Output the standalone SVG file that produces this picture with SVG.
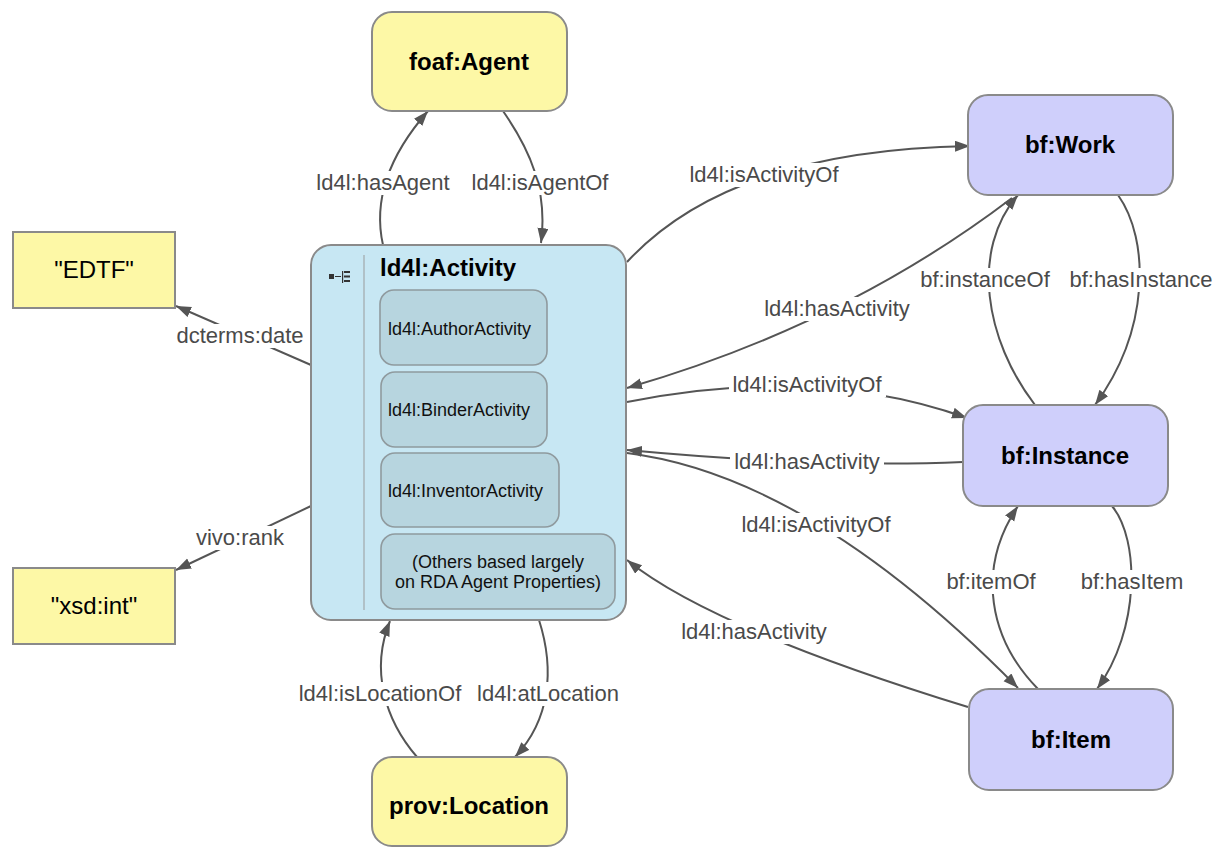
<svg xmlns="http://www.w3.org/2000/svg" width="1217" height="849" viewBox="0 0 1217 849">
<style>
.node{stroke:#8a8a8a;stroke-width:2}
.yel{fill:#fdf8a6}
.lav{fill:#cfcffb}
.act{fill:#c7e7f3}
.sub{fill:#b7d5df;stroke:#8f9a9e;stroke-width:1.6}
.nl{font-family:"Liberation Sans",Arial,sans-serif;font-weight:bold;font-size:24px;fill:#000;text-anchor:middle}
.lit{font-family:"Liberation Sans",Arial,sans-serif;font-size:24px;fill:#000;text-anchor:middle}
.sl{font-family:"Liberation Sans",Arial,sans-serif;font-size:18px;fill:#111}
.edge{fill:none;stroke:#555;stroke-width:2;marker-end:url(#arr)}
.lb{fill:#fff}
.el{font-family:"Liberation Sans",Arial,sans-serif;font-size:22px;fill:#4a4a4a;text-anchor:middle}
</style>
<defs>
<marker id="arr" markerUnits="userSpaceOnUse" markerWidth="16" markerHeight="12" refX="15" refY="5.5" orient="auto">
<path d="M0,0 L15,5.5 L0,11 z" fill="#555"/>
</marker>
</defs>
<rect width="1217" height="849" fill="#fff"/>

<g id="connectors">
<path class="edge" d="M383,245 C374,205 385,160 428,111"/>
<path class="edge" d="M503,111 C530,150 548,190 541,243"/>
<path class="edge" d="M417,757 C385,720 370,670 390,621"/>
<path class="edge" d="M539,620 C555,670 550,720 515,757"/>
<path class="edge" d="M311,365 L176,306"/>
<path class="edge" d="M311,506 L176,570"/>
<path class="edge" d="M627,262 Q730,150 970,146"/>
<path class="edge" d="M1012,198 Q845,325 627,388"/>
<path class="edge" d="M627,402 Q815,364 967,418"/>
<path class="edge" d="M963,462 Q819,468 627,450"/>
<path class="edge" d="M627,453 Q810,476 1018,688"/>
<path class="edge" d="M968,707 Q711,628 627,560"/>
<path class="edge" d="M1035,405 C985,340 970,250 1018,195"/>
<path class="edge" d="M1118,195 C1150,240 1150,330 1095,405"/>
<path class="edge" d="M1038,689 C990,640 975,570 1018,506"/>
<path class="edge" d="M1112,506 C1140,540 1140,630 1097,689"/>
<g id="edge-labels">
<rect class="lb" x="311" y="171" width="144" height="24"/>
<text class="el" x="383" y="190">ld4l:hasAgent</text>
<rect class="lb" x="467" y="171" width="146" height="24"/>
<text class="el" x="540" y="190">ld4l:isAgentOf</text>
<rect class="lb" x="172" y="324" width="136" height="24"/>
<text class="el" x="240" y="343">dcterms:date</text>
<rect class="lb" x="192" y="526" width="96" height="24"/>
<text class="el" x="240" y="545">vivo:rank</text>
<rect class="lb" x="295" y="682" width="171" height="24"/>
<text class="el" x="380" y="701">ld4l:isLocationOf</text>
<rect class="lb" x="473" y="682" width="150" height="24"/>
<text class="el" x="548" y="701">ld4l:atLocation</text>
<rect class="lb" x="686" y="163" width="157" height="24"/>
<text class="el" x="764" y="182">ld4l:isActivityOf</text>
<rect class="lb" x="760" y="297" width="154" height="24"/>
<text class="el" x="837" y="316">ld4l:hasActivity</text>
<rect class="lb" x="729" y="373" width="157" height="24"/>
<text class="el" x="807" y="392">ld4l:isActivityOf</text>
<rect class="lb" x="730" y="450" width="154" height="24"/>
<text class="el" x="807" y="469">ld4l:hasActivity</text>
<rect class="lb" x="738" y="513" width="157" height="24"/>
<text class="el" x="816" y="532">ld4l:isActivityOf</text>
<rect class="lb" x="677" y="620" width="154" height="24"/>
<text class="el" x="754" y="639">ld4l:hasActivity</text>
<rect class="lb" x="916" y="268" width="138" height="24"/>
<text class="el" x="985" y="287">bf:instanceOf</text>
<rect class="lb" x="1066" y="268" width="151" height="24"/>
<text class="el" x="1141" y="287">bf:hasInstance</text>
<rect class="lb" x="943" y="570" width="97" height="24"/>
<text class="el" x="991" y="589">bf:itemOf</text>
<rect class="lb" x="1077" y="570" width="110" height="24"/>
<text class="el" x="1132" y="589">bf:hasItem</text>
</g>
</g>

<g id="foaf-agent">
<rect class="node yel" x="372" y="12" width="195" height="99" rx="20"/>
<text class="nl" x="469" y="70">foaf:Agent</text>
</g>
<g id="edtf">
<rect class="node yel" x="13" y="232" width="162" height="76"/>
<text class="lit" x="94" y="278">"EDTF"</text>
</g>
<g id="xsd-int">
<rect class="node yel" x="13" y="568" width="162" height="76"/>
<text class="lit" x="94" y="614">"xsd:int"</text>
</g>
<g id="prov-location">
<rect class="node yel" x="372" y="757" width="195" height="89" rx="20"/>
<text class="nl" x="469" y="814">prov:Location</text>
</g>
<g id="bf-work">
<rect class="node lav" x="968" y="95" width="205" height="100" rx="20"/>
<text class="nl" x="1070" y="153">bf:Work</text>
</g>
<g id="bf-instance">
<rect class="node lav" x="963" y="405" width="205" height="101" rx="20"/>
<text class="nl" x="1065" y="464">bf:Instance</text>
</g>
<g id="bf-item">
<rect class="node lav" x="969" y="689" width="204" height="101" rx="20"/>
<text class="nl" x="1071" y="748">bf:Item</text>
</g>

<g id="ld4l-activity">
<rect class="node act" x="311" y="245" width="315" height="375" rx="20"/>
<line x1="364" y1="255" x2="364" y2="610" stroke="#a8b4b8" stroke-width="1.5"/>
<g fill="#333">
<rect x="329" y="274" width="5" height="5"/>
<rect x="335" y="276" width="6" height="1"/>
<rect x="342" y="271" width="1.2" height="12"/>
<rect x="344" y="271" width="6" height="2"/>
<rect x="344" y="275.5" width="6" height="2"/>
<rect x="344" y="280" width="6" height="2"/>
</g>
<text class="nl" x="380" y="276" text-anchor="start" style="text-anchor:start">ld4l:Activity</text>
<g id="author-activity">
<rect class="sub" x="380" y="290" width="167" height="75" rx="14"/>
<text class="sl" x="388" y="335">ld4l:AuthorActivity</text>
</g>
<g id="binder-activity">
<rect class="sub" x="381" y="372" width="166" height="75" rx="14"/>
<text class="sl" x="388" y="416">ld4l:BinderActivity</text>
</g>
<g id="inventor-activity">
<rect class="sub" x="381" y="453" width="178" height="74" rx="14"/>
<text class="sl" x="388" y="497">ld4l:InventorActivity</text>
</g>
<g id="other-activity">
<rect class="sub" x="381" y="534" width="234" height="75" rx="14"/>
<text class="sl" x="498" y="568" text-anchor="middle">(Others based largely</text>
<text class="sl" x="498" y="588" text-anchor="middle">on RDA Agent Properties)</text>
</g>
</g>
</svg>
